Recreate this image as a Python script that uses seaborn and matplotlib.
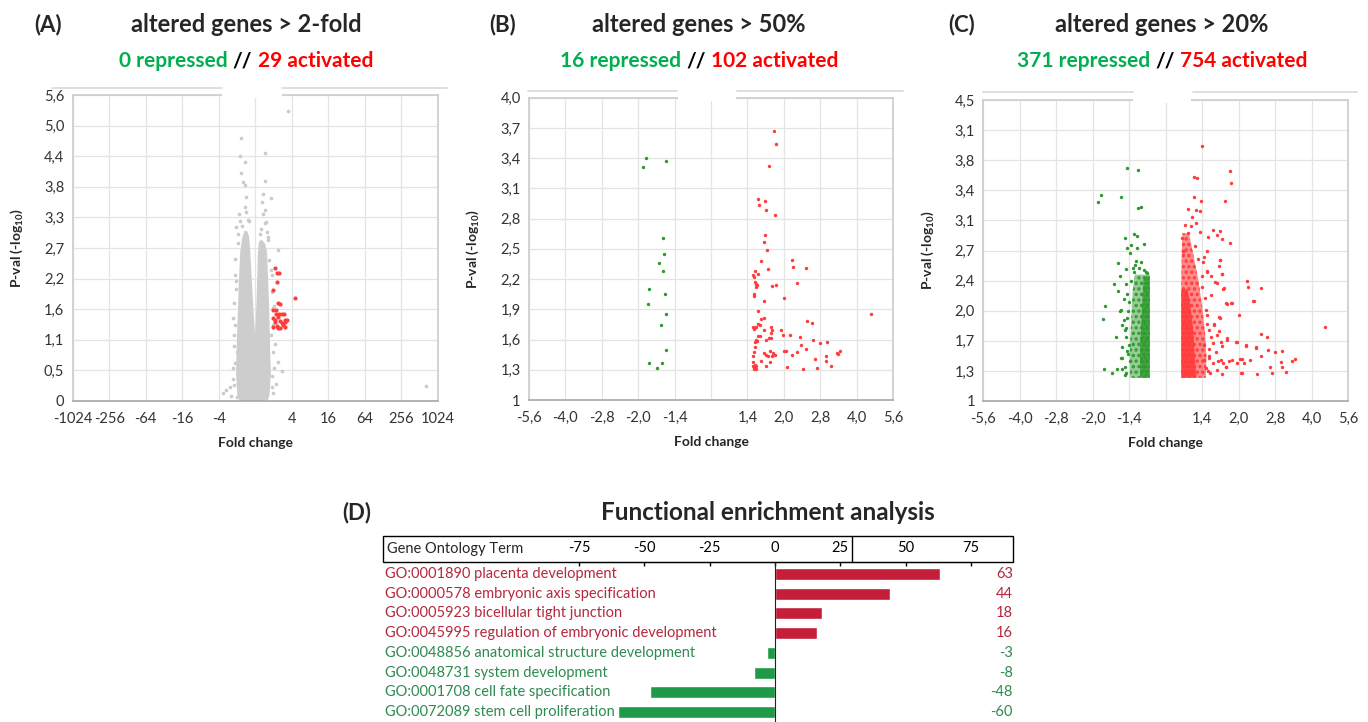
import numpy as np
import pandas as pd
import matplotlib
matplotlib.use("Agg")
import matplotlib.pyplot as plt
import matplotlib.transforms as mtransforms
from matplotlib.patches import Rectangle
from matplotlib.lines import Line2D
import seaborn as sns

sns.set_style("white")
plt.rcParams['font.family'] = ['Lato', 'DejaVu Sans']
plt.rcParams['mathtext.fontset'] = 'custom'
plt.rcParams['mathtext.bf'] = 'Lato:bold'
plt.rcParams['mathtext.rm'] = 'Lato:bold'
plt.rcParams['mathtext.default'] = 'bf'
plt.rcParams['hatch.linewidth'] = 1.6

W, H = 1368, 722
GREEN_TXT = '#00b050'
RED_TXT = '#ff0000'

# ---------------- data (x = signed log2 fold change, y = -log10 p) ----------------
# panel A
a_xticks = [-10, -8, -6, -4, -2, 0, 2, 4, 6, 8, 10]
a_xlabels = ['-1024', '-256', '-64', '-16', '-4', '', '4', '16', '64', '256', '1024']
a_yticks = [0, 0.56, 1.12, 1.68, 2.24, 2.8, 3.36, 3.92, 4.48, 5.04, 5.6]
a_ylabels = ['0', '0,5', '1,1', '1,6', '2,2', '2,7', '3,3', '3,8', '4,4', '5,0', '5,6']
# outline of the dense grey "V" cloud
a_cloud_x = [-0.85, -0.98, -1.05, -1.02, -0.99, -0.96, -0.9, -0.82, -0.7, -0.58,
             -0.42, -0.33, -0.27, -0.17, -0.07, 0.0, 0.04, 0.1, 0.15, 0.2, 0.3, 0.42,
             0.54, 0.65, 0.72, 0.78, 0.8, 0.82, 0.86, 0.78, 0.68]
a_cloud_y = [0.0, 0.1, 0.5, 0.9, 1.25, 1.51, 2.12, 2.73, 3.0, 3.12,
             3.1, 3.0, 2.73, 2.12, 1.51, 1.22, 1.51, 2.12, 2.73, 2.9, 2.95, 2.93,
             2.88, 2.73, 2.12, 1.51, 1.25, 0.9, 0.5, 0.1, 0.0]
a_gray_x = [1.82, -0.76, -0.82, 0.51, -0.58, -0.8, -0.67, 0.51, -0.58, -0.49, 0.42, 0.36,
            0.87, -0.89, -0.49, 0.42, -1.04, -0.4, 0.6, 0.69, 1.24, -1.13, 0.93, -1.22,
            -1.0, -1.13, 1.24, 1.47, 1.15, -1.62, -1.4, -1.76, -1.0, 0.96, 9.38, 0.75,
            1.05, -0.95, -0.7, 0.3, -1.05, 0.85, 1.1, -1.15, 0.9, -0.55, 0.55, -1.2,
            -1.1, -1.06, -1.15, -1.08, -1.14, -1.2, -0.95, -0.85, 0.72, 0.65, 0.86, 0.92,
            0.95, 1.0, 0.98, 1.02, 0.92, -1.3, -1.16, 0.55, -0.35, 0.25]
a_gray_y = [5.31, 4.81, 4.48, 4.53, 4.38, 4.17, 4.01, 4.03, 3.95, 3.74, 3.78, 3.65,
            3.71, 3.43, 3.46, 3.43, 3.19, 3.31, 3.28, 3.01, 2.76, 2.31, 2.31, 1.51,
            0.9, 0.69, 0.72, 0.54, 0.32, 0.2, 0.26, 0.14, 0.08, 0.14, 0.27, 2.58,
            1.73, 2.9, 3.2, 3.15, 2.05, 1.2, 1.05, 1.2, 0.45, 3.55, 3.5, 0.4,
            2.6, 2.2, 1.8, 1.4, 1.0, 0.6, 3.05, 3.3, 2.95, 3.1, 2.4, 2.0,
            1.7, 1.4, 0.9, 0.6, 0.25, 0.1, 0.3, 3.25, 3.3, 3.05]
a_red_x = [1.07, 1.29, 1.18, 1.18, 1.0, 2.18, 1.25, 1.36, 1.0, 1.15, 1.29, 1.47, 1.56,
           1.0, 1.11, 1.24, 1.38, 1.62, 1.73, 1.07, 1.45, 1.55, 1.65, 1.0, 1.24, 1.38,
           1.64, 1.22, 1.12]
a_red_y = [2.43, 2.34, 2.35, 2.18, 2.03, 1.89, 1.79, 1.77, 1.67, 1.66, 1.60, 1.60, 1.59,
           1.51, 1.48, 1.54, 1.46, 1.48, 1.49, 1.45, 1.42, 1.40, 1.44, 1.36, 1.33, 1.33,
           1.36, 1.38, 1.60]

# panels B and C share the fold change axis
bc_xticks = [-2.5, -2, -1.5, -1, -0.5, 0, 0.5, 1, 1.5, 2, 2.5]
bc_xlabels = ['-5,6', '-4,0', '-2,8', '-2,0', '-1,4', '', '1,4', '2,0', '2,8', '4,0', '5,6']

# panel B
b_yticks = [1, 1.3, 1.6, 1.9, 2.2, 2.5, 2.8, 3.1, 3.4, 3.7, 4.0]
b_ylabels = ['1', '1,3', '1,6', '1,9', '2,2', '2,5', '2,8', '3,1', '3,4', '3,7', '4,0']
b_green_x = [-0.895, -0.62, -0.93, -0.656, -0.642, -0.72, -0.66, -0.85, -0.633, -0.867,
             -0.615, -0.68, -0.615, -0.858, -0.674, -0.743]
b_green_y = [3.40, 3.37, 3.31, 2.61, 2.45, 2.36, 2.28, 2.10, 2.05, 1.95, 1.85, 1.74, 1.50,
             1.37, 1.37, 1.32]
b_red_x = [0.872, 0.899, 0.803, 0.642, 0.739, 0.661, 0.757, 0.881, 0.743, 0.725, 0.775,
           0.693, 1.115, 1.133, 1.307, 0.789, 0.61, 0.578, 0.651, 0.592, 0.601, 0.624,
           0.638, 0.615, 0.89, 0.835, 1.188, 0.596, 0.587, 1.0, 0.734, 0.647, 2.197,
           0.734, 0.688, 1.312, 1.385, 0.647, 0.67, 0.583, 0.596, 0.592, 0.624, 0.826,
           0.844, 0.729, 0.959, 0.83, 0.647, 0.679, 0.995, 1.087, 1.22, 0.794, 0.821,
           0.757, 0.624, 0.601, 0.638, 1.399, 1.491, 1.596, 1.243, 1.307, 0.596, 0.729,
           0.812, 0.858, 0.876, 0.839, 0.752, 1.005, 1.032, 1.183, 1.106, 1.725, 1.743,
           1.766, 1.583, 1.422, 1.578, 0.583, 0.693, 0.807, 0.61, 0.583, 0.619, 0.761,
           1.046, 1.642, 1.454, 1.261, 0.592, 0.619, 0.587, 0.583, 0.784, 0.61]
b_red_y = [3.67, 3.54, 3.32, 2.99, 2.97, 2.94, 2.89, 2.84, 2.64, 2.57, 2.49, 2.38, 2.39,
           2.32, 2.31, 2.30, 2.28, 2.24, 2.25, 2.22, 2.17, 2.15, 2.14, 2.12, 2.14, 2.13,
           2.16, 2.05, 2.03, 2.01, 1.98, 1.88, 1.85, 1.81, 1.80, 1.78, 1.76, 1.75, 1.74,
           1.72, 1.71, 1.70, 1.72, 1.72, 1.69, 1.69, 1.69, 1.66, 1.64, 1.64, 1.65, 1.65,
           1.63, 1.62, 1.62, 1.60, 1.60, 1.58, 1.59, 1.60, 1.57, 1.58, 1.55, 1.51, 1.48,
           1.47, 1.49, 1.47, 1.45, 1.44, 1.45, 1.49, 1.49, 1.48, 1.45, 1.47, 1.46, 1.49,
           1.44, 1.41, 1.39, 1.38, 1.39, 1.38, 1.35, 1.34, 1.34, 1.34, 1.33, 1.34, 1.32,
           1.31, 1.32, 1.31, 1.31, 1.44, 1.44, 1.53]

# panel C
c_yticks = [1, 1.35, 1.7, 2.05, 2.4, 2.75, 3.1, 3.45, 3.8, 4.15, 4.5]
c_ylabels = ['1', '1,3', '1,7', '2,0', '2,4', '2,7', '3,1', '3,4', '3,8', '3,1', '4,5']
# dense cores of the two clouds
c_green_core_y = [1.27, 1.6, 2.0, 2.3, 2.47]
c_green_core_lo = [-0.49, -0.49, -0.47, -0.45, -0.42]
c_green_core_hi = [-0.218, -0.218, -0.218, -0.218, -0.218]
c_green_dense_y = [1.27, 1.6, 2.0, 2.3, 2.45]
c_green_dense_lo = [-0.35, -0.35, -0.33, -0.31, -0.30]
c_green_dense_hi = [-0.218, -0.218, -0.218, -0.218, -0.218]
c_red_core_y = [1.27, 1.5, 1.8, 2.1, 2.4, 2.7, 2.95]
c_red_core_lo = [0.215, 0.215, 0.215, 0.215, 0.215, 0.22, 0.23]
c_red_core_hi = [0.55, 0.56, 0.54, 0.50, 0.45, 0.38, 0.32]
c_red_dense_y = [1.27, 1.5, 1.8, 2.1, 2.3]
c_red_dense_lo = [0.215, 0.215, 0.215, 0.215, 0.215]
c_red_dense_hi = [0.42, 0.40, 0.38, 0.34, 0.30]
# scattered points around the cores
c_green_x = [-0.525, -0.379, -0.89, -0.922, -0.612, -0.342, -0.379, -0.434, -0.388, -0.557,
             -0.479, -0.297, -0.525, -0.388, -0.493, -0.648, -0.411, -0.333, -0.539, -0.63,
             -0.708, -0.648, -0.548, -0.836, -0.854, -0.63, -0.571, -0.594, -0.676, -0.603,
             -0.845, -0.74, -0.662, -0.557, -0.594, -0.525, -0.502, -0.493, -0.616, -0.571,
             -0.557, -0.616, -0.594, -0.45, -0.42, -0.55, -0.53, -0.52, -0.56, -0.51,
             -0.55, -0.53, -0.54, -0.5, -0.47, -0.44, -0.36, -0.3, -0.27, -0.25]
c_green_y = [3.705, 3.69, 3.40, 3.31, 3.37, 3.26, 3.24, 2.94, 2.92, 2.89, 2.81, 2.82, 2.78,
             2.78, 2.72, 2.61, 2.63, 2.62, 2.53, 2.45, 2.36, 2.28, 2.36, 2.11, 1.95, 2.05,
             2.19, 1.88, 1.74, 1.50, 1.37, 1.32, 1.37, 1.40, 1.63, 1.96, 1.65, 1.46, 2.06,
             1.94, 1.83, 1.50, 1.37, 2.55, 2.58, 1.75, 2.25, 1.55, 1.30, 2.05,
             1.33, 1.58, 1.85, 2.15, 2.4, 2.5, 2.55, 2.52, 2.5, 2.49]
c_red_x = [0.493, 0.881, 0.9, 0.388, 0.434, 0.388, 0.489, 0.808, 0.311, 0.411, 0.466, 0.361,
           0.411, 0.342, 0.466, 0.644, 0.744, 0.708, 0.584, 0.767, 0.881, 0.571, 0.525,
           0.744, 0.73, 0.571, 0.776, 0.699, 1.119, 1.132, 1.301, 0.79, 1.21, 0.836, 0.89,
           1.005, 0.74, 2.19, 0.662, 1.31, 1.393, 0.73, 0.753, 0.836, 0.973, 1.105, 1.233,
           1.402, 1.498, 1.598, 1.301, 1.05, 1.151, 1.014, 1.735, 1.767, 1.575, 1.429,
           1.589, 0.868, 0.79, 0.721, 0.822, 1.644, 1.461, 1.05, 1.256, 0.594, 0.571,
           0.616, 0.548, 0.662, 0.594, 0.708, 0.648, 0.525, 0.685, 0.767, 0.594, 0.753,
           0.648, 0.548, 0.708, 0.603, 0.776, 0.525, 0.571, 0.493, 0.616, 0.511, 0.74,
           0.776, 0.799, 0.831, 0.904, 0.676, 0.731, 0.845, 0.904, 0.831, 0.959, 0.982,
           1.073, 1.2, 1.105, 1.233, 1.027,
           0.58, 0.6, 0.62, 0.57, 0.54, 0.5, 0.44, 0.4, 0.3, 0.26, 0.22, 0.24]
c_red_y = [3.96, 3.67, 3.54, 3.61, 3.59, 3.37, 3.33, 3.33, 3.23, 3.22, 3.21, 3.14, 3.07,
           3.04, 2.97, 2.99, 2.98, 2.93, 2.91, 2.88, 2.84, 2.75, 2.68, 2.64, 2.57, 2.51,
           2.48, 2.37, 2.39, 2.32, 2.31, 2.30, 2.16, 2.13, 2.14, 2.0, 1.97, 1.86, 1.88,
           1.78, 1.75, 1.81, 1.69, 1.71, 1.69, 1.65, 1.62, 1.59, 1.57, 1.58, 1.52, 1.49,
           1.48, 1.49, 1.46, 1.49, 1.45, 1.39, 1.39, 1.46, 1.44, 1.47, 1.39, 1.34, 1.32,
           1.33, 1.31, 1.50, 2.50, 2.23, 2.06, 1.90, 1.83, 1.77, 1.67, 1.65, 1.57, 1.64,
           1.52, 1.48, 1.44, 1.38, 1.36, 1.32, 1.31, 1.48, 1.90, 2.33, 2.45, 2.62, 2.64,
           2.48, 2.31, 2.14, 2.14, 2.38, 1.98, 1.73, 1.48, 1.40, 1.69, 1.44, 1.44, 2.16,
           1.64, 1.63, 1.32,
           1.35, 1.6, 1.75, 2.0, 2.2, 2.45, 2.65, 2.8, 2.95, 3.05, 2.9, 2.75]

# panel D
go_terms = ['GO:0001890 placenta development', 'GO:0000578 embryonic axis specification',
            'GO:0005923 bicellular tight junction', 'GO:0045995 regulation of embryonic development',
            'GO:0048856 anatomical structure development', 'GO:0048731 system development',
            'GO:0001708 cell fate specification', 'GO:0072089 stem cell proliferation']
go_values = [63, 44, 18, 16, -3, -8, -48, -60]
go_xticks = [-75, -50, -25, 0, 25, 50, 75]

panel_titles = ['altered genes > 2-fold', 'altered genes > 50%', 'altered genes > 20%']
n_repressed = [0, 16, 371]
n_activated = [29, 102, 754]

# ---------------- figure ----------------
fig = plt.figure(figsize=(W / 100, H / 100), dpi=100)


def add_ax(l, t, r, b):
    return fig.add_axes([l / W, 1 - b / H, (r - l) / W, (b - t) / H])


def style_volcano(ax, xt, xl, yt, yl, gap, ylab_x):
    ax.set_xlim(xt[0], xt[-1])
    ax.set_ylim(yt[0], yt[-1])
    ax.set_xticks(xt)
    ax.set_xticklabels(xl)
    ax.set_yticks(yt)
    ax.set_yticklabels(yl)
    ax.grid(True, color='#e4e4e4', lw=0.9)
    ax.set_axisbelow(True)
    ax.tick_params(axis='both', length=0, labelsize=10.5, labelcolor='#333333')
    ax.tick_params(axis='x', pad=8)
    ax.tick_params(axis='y', pad=6)
    for s in ['left', 'right', 'top']:
        ax.spines[s].set_color('#cccccc')
        ax.spines[s].set_linewidth(1.2)
    ax.spines['bottom'].set_color('#a8a8a8')
    ax.spines['bottom'].set_linewidth(1.2)
    ax.set_xlabel('Fold change', fontweight='bold', fontsize=10, labelpad=7.5)
    ax.set_ylabel(r'P-val (-log$_{10}$)', fontweight='bold', fontsize=10)
    ax.yaxis.set_label_coords(ylab_x, 0.5)
    ax.add_patch(Rectangle((gap[0], 0.99), gap[1] - gap[0], 0.03, transform=ax.transAxes,
                           facecolor='white', edgecolor='none', clip_on=False, zorder=5))


def border_line(y, segs):
    for x0, x1 in segs:
        fig.add_artist(Line2D([x0 / W, x1 / W], [1 - y / H, 1 - y / H], color='#dcdcdc', lw=1.3))


def colored_line(xc, y, parts, size):
    r = fig.canvas.get_renderer()
    texts = [fig.text(0, 1 - y / H, s, color=c, fontsize=size, fontweight='bold',
                      va='center', ha='left') for s, c in parts]
    probe = fig.text(0, 0, 'a a', fontsize=size, fontweight='bold')
    probe2 = fig.text(0, 0, 'aa', fontsize=size, fontweight='bold')
    sp = probe.get_window_extent(r).width - probe2.get_window_extent(r).width
    probe.remove()
    probe2.remove()
    widths = [t.get_window_extent(r).width for t in texts]
    total = sum(widths) + sp * (len(texts) - 1)
    x = xc - total / 2
    for t, w in zip(texts, widths):
        t.set_x(x / W)
        x += w + sp


RED_PT = '#ff3b3b'
GREEN_PT = '#2e9a2e'

# panel A
axA = add_ax(72.7, 95, 437.7, 401)
axA.fill(a_cloud_x, a_cloud_y, color='#cdcdcd', lw=0)
sns.scatterplot(x=a_gray_x, y=a_gray_y, color='#cbcbcb', s=7, linewidth=0, ax=axA)
sns.scatterplot(x=a_red_x, y=a_red_y, color=RED_PT, s=9, linewidth=0, ax=axA)
style_volcano(axA, a_xticks, a_xlabels, a_yticks, a_ylabels, (0.408, 0.573), -0.131)
border_line(88, [(52, 222), (282, 447)])

# panel B
axB = add_ax(529, 97.7, 893, 400)
sns.scatterplot(x=b_green_x, y=b_green_y, color=GREEN_PT, s=6, linewidth=0, ax=axB)
sns.scatterplot(x=b_red_x, y=b_red_y, color=RED_PT, s=6, linewidth=0, ax=axB)
style_volcano(axB, bc_xticks, bc_xlabels, b_yticks, b_ylabels, (0.41, 0.57), -0.132)
border_line(91, [(528, 677), (737, 903)])

# panel C
axC = add_ax(983.3, 100, 1348, 401)
axC.fill_betweenx(c_green_core_y, c_green_core_lo, c_green_core_hi, facecolor=(0.18, 0.6, 0.18, 0.5),
                  edgecolor=GREEN_PT, hatch='...', lw=0)
axC.fill_betweenx(c_green_dense_y, c_green_dense_lo, c_green_dense_hi, facecolor=(0.18, 0.6, 0.18, 0.75),
                  edgecolor=GREEN_PT, hatch='....', lw=0)
axC.fill_betweenx(c_red_core_y, c_red_core_lo, c_red_core_hi, facecolor=(1, 0.23, 0.23, 0.6),
                  edgecolor=RED_PT, hatch='...', lw=0)
axC.fill_betweenx(c_red_dense_y, c_red_dense_lo, c_red_dense_hi, facecolor=(1, 0.23, 0.23, 0.85),
                  edgecolor=RED_PT, hatch='....', lw=0)
sns.scatterplot(x=c_green_x, y=c_green_y, color=GREEN_PT, s=6, linewidth=0, ax=axC)
sns.scatterplot(x=c_red_x, y=c_red_y, color=RED_PT, s=6, linewidth=0, ax=axC)
style_volcano(axC, bc_xticks, bc_xlabels, c_yticks, c_ylabels, (0.41, 0.57), -0.129)
border_line(92, [(983, 1133), (1193, 1357)])

# titles of A-C
for letter, lx, tx, title, nr, na in zip(['(A)', '(B)', '(C)'], [48, 503, 962], [246, 699, 1162],
                                         panel_titles, n_repressed, n_activated):
    fig.text(lx / W, 1 - 25 / H, letter, ha='center', va='center', fontsize=16, fontweight='bold')
    fig.text(tx / W, 1 - 25 / H, title, ha='center', va='center', fontsize=17, fontweight='bold')
    colored_line(tx, 61, [(f'{nr} repressed', GREEN_TXT), ('//', 'black'),
                          (f'{na} activated', RED_TXT)], 15)

# panel D
BAR_RED, BAR_GREEN = '#c41e3a', '#1f9a48'
LBL_RED, LBL_GREEN = '#b5283e', '#2e8a50'
axD = add_ax(383, 562, 1013, 722)
bar_cols = [BAR_RED if v > 0 else BAR_GREEN for v in go_values]
sns.barplot(x=go_values, y=go_terms, hue=go_terms, palette=bar_cols, legend=False,
            orient='h', width=0.6, saturation=1, ax=axD)
axD.set_xlim(-150, 91.1)
axD.set_ylim(7.5, -0.6)
axD.set_xlabel('')
axD.set_ylabel('')
axD.xaxis.set_ticks_position('top')
axD.set_xticks(go_xticks)
axD.set_xticklabels([str(v) for v in go_xticks])
axD.tick_params(axis='x', direction='in', length=3, width=1, pad=5, labelsize=10.5, colors='black')
axD.set_yticks([])
axD.set_yticks(np.arange(0.5, 8, 1), minor=True)
axD.tick_params(axis='y', which='minor', direction='inout', length=6, width=1, color='#222222')
for s in ['right', 'bottom']:
    axD.spines[s].set_visible(False)
axD.spines['left'].set_position(('data', 0))
axD.spines['left'].set_color('#222222')
axD.spines['top'].set_bounds(-75, 75)
axD.spines['top'].set_color('black')
blend = mtransforms.blended_transform_factory(axD.transAxes, axD.transData)
for i, (term, v) in enumerate(zip(go_terms, go_values)):
    c = LBL_RED if v > 0 else LBL_GREEN
    axD.text(0.003, i, term, transform=blend, ha='left', va='center', color=c, fontsize=10.5)
    axD.text(1.0, i, str(v), transform=blend, ha='right', va='center', color=c, fontsize=10.5)

fig.add_artist(Rectangle((383 / W, 1 - 562 / H), 630 / W, 26 / H, transform=fig.transFigure,
                         fill=False, edgecolor='black', lw=1))
fig.add_artist(Line2D([852 / W, 852 / W], [1 - 536 / H, 1 - 562 / H], color='black', lw=1))
fig.text(387 / W, 1 - 549 / H, 'Gene Ontology Term', ha='left', va='center', fontsize=10.5)
fig.text(357 / W, 1 - 513 / H, '(D)', ha='center', va='center', fontsize=16, fontweight='bold')
fig.text(768 / W, 1 - 513 / H, 'Functional enrichment analysis', ha='center', va='center',
         fontsize=17.5, fontweight='bold')

fig.savefig('out.png', dpi=100, facecolor='white')
